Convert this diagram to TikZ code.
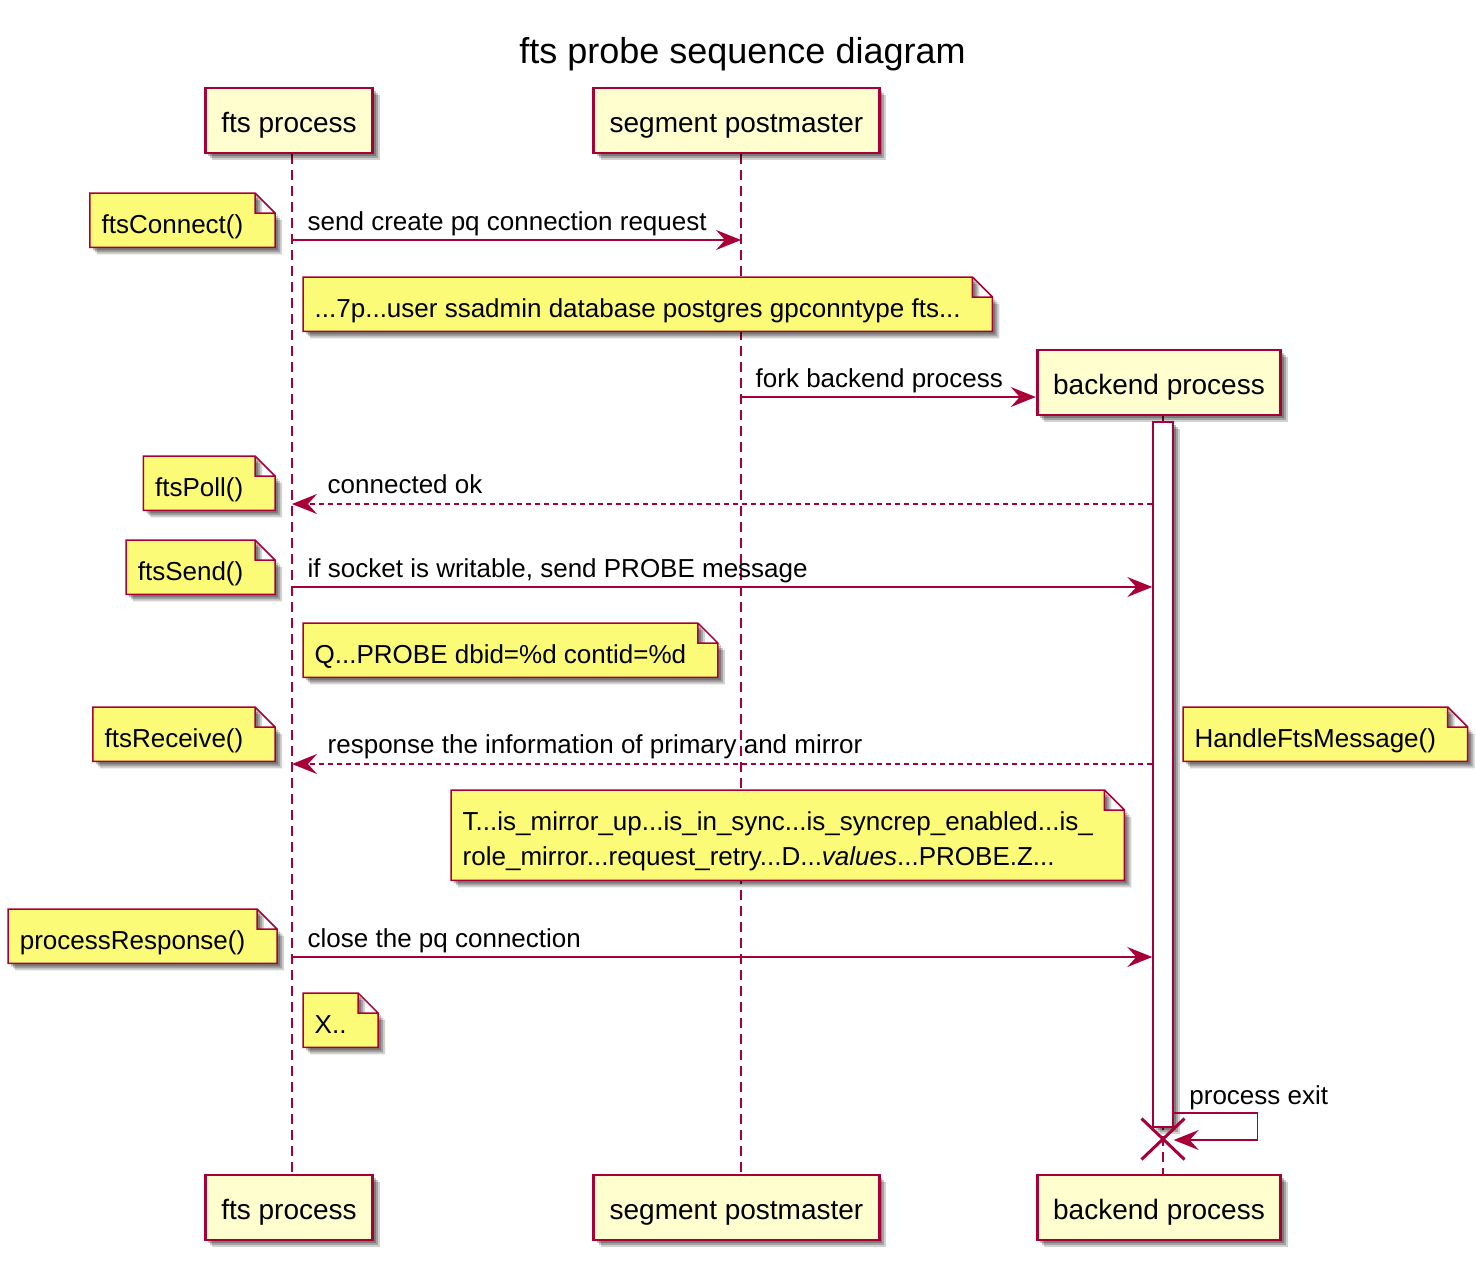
\documentclass[tikz,border=0pt]{standalone}
\usepackage{fontspec}
\setmainfont{Liberation Sans}
\usetikzlibrary{arrows.meta, shapes.misc, shadows, backgrounds}
\definecolor{pumlred}{HTML}{A80036}
\definecolor{partyfill}{HTML}{FEFECE}
\definecolor{notefill}{HTML}{FBFB77}

\begin{document}
\begin{tikzpicture}[x=1pt, y=-1pt,
	pshadow/.style={drop shadow={shadow xshift=7pt, shadow yshift=-7pt, fill=black, opacity=0.18},
		drop shadow={shadow xshift=5pt, shadow yshift=-5pt, fill=black, opacity=0.22},
		drop shadow={shadow xshift=3pt, shadow yshift=-3pt, fill=black, opacity=0.25}},
	party/.style={draw=pumlred, fill=partyfill, line width=2.8pt, pshadow,
		font=\fontsize{28}{34}\selectfont, minimum height=65pt, inner xsep=16pt,
		text height=24pt, text depth=0pt},
	lifeline/.style={draw=pumlred, line width=1.4pt, dash pattern=on 10pt off 6pt},
	actbar/.style={draw=pumlred, fill=white, line width=1.4pt, pshadow,
		minimum width=20pt, minimum height=705pt, inner sep=0pt},
	msg/.style={draw=pumlred, line width=1.4pt, -{Stealth[length=25pt, width=20pt, inset=9pt]}},
	ret/.style={msg, dash pattern=on 5pt off 4pt},
	lbl/.style={font=\fontsize{26}{31}\selectfont, inner sep=0pt, anchor=base west},
	note/.style={font=\fontsize{26}{35}\selectfont, align=left, inner xsep=11.5pt, inner ysep=0pt,
		minimum height=54pt, text height=26pt, text depth=0pt},
	notebody/.style={draw=pumlred, fill=notefill, line width=1.5pt, pshadow}]
	
	\useasboundingbox (0,0) rectangle (1476,1266);
	
	\node[font=\fontsize{36}{43}\selectfont, anchor=base] (title) at (742.5,63) {fts probe sequence diagram};
	
	% participants, top and bottom
	\node[party] (ftsTop) at (289,120.5) {fts process};
	\node[party] (segTop) at (736.5,120.5) {segment postmaster};
	\node[party] (backTop) at (1159,382.5) {backend process};
	\node[party] (ftsBot) at (289,1207.5) {fts process};
	\node[party] (segBot) at (736.5,1207.5) {segment postmaster};
	\node[party] (backBot) at (1159,1207.5) {backend process};
	
	\coordinate (fts) at (292,0);
	\coordinate (seg) at (741,0);
	\coordinate (back) at (1163,0);
	
	\node[actbar] (act) at (1163,774.5) {};
	
	% notes
	\node[note, anchor=north east] (nConnect) at (255,193) {ftsConnect()};
	\node[note, anchor=north west] (nStartup) at (303,277) {...7p...user ssadmin database postgres gpconntype fts...};
	\node[note, anchor=north east] (nPoll) at (255,456) {ftsPoll()};
	\node[note, anchor=north east] (nSend) at (255,540) {ftsSend()};
	\node[note, anchor=north west] (nProbe) at (303,623) {Q...PROBE dbid=\%d contid=\%d};
	\node[note, anchor=north east] (nReceive) at (255,707) {ftsReceive()};
	\node[note, anchor=north west] (nHandle) at (1183,707) {HandleFtsMessage()};
	\node[note, anchor=north west, text height=61pt, minimum height=90pt] (nResult) at (451,790)
		{T...is\_mirror\_up...is\_in\_sync...is\_syncrep\_enabled...is\_\\role\_mirror...request\_retry...D...\textit{values}...PROBE.Z...};
	\node[note, anchor=north east] (nResponse) at (257,909) {processResponse()};
	\node[note, anchor=north west] (nClose) at (303,993) {X..};
	
	\begin{scope}[on background layer]
		\draw[lifeline] (fts |- ftsTop.south) -- (fts |- ftsBot.north);
		\draw[lifeline] (seg |- segTop.south) -- (seg |- segBot.north);
		\draw[lifeline] (back |- backTop.south) -- (back |- backBot.north);
		\foreach \n in {nConnect, nStartup, nPoll, nSend, nProbe, nReceive, nHandle, nResult, nResponse, nClose}
		\filldraw[notebody] (\n.north west) -- (\n.north east) -- ([shift={(20,20)}]\n.north east)
			-- ([xshift=20pt]\n.south east) -- (\n.south west) -- cycle
			(\n.north east) |- ([shift={(20,20)}]\n.north east);
	\end{scope}
	
	% messages
	\draw[msg] (fts |- 0,240) -- (seg |- 0,240) node[lbl, pos=0, xshift=15pt, yshift=10pt] {send create pq connection request};
	\draw[msg] (seg |- 0,397) -- (backTop.west |- 0,397) node[lbl, pos=0, xshift=14pt, yshift=10pt] {fork backend process};
	\draw[ret] (act.west |- 0,504) -- (fts |- 0,504) node[lbl, pos=1, xshift=35pt, yshift=11pt] {connected ok};
	\draw[msg] (fts |- 0,587) -- (act.west |- 0,587) node[lbl, pos=0, xshift=15pt, yshift=10pt] {if socket is writable, send PROBE message};
	\draw[ret] (act.west |- 0,764) -- (fts |- 0,764) node[lbl, pos=1, xshift=35pt, yshift=10.5pt] {response the information of primary and mirror};
	\draw[msg] (fts |- 0,957) -- (act.west |- 0,957) node[lbl, pos=0, xshift=15pt, yshift=10pt] {close the pq connection};
	\draw[msg] (act.east |- 0,1113) -- ++(84,0) node[lbl, pos=0, xshift=15pt, yshift=9pt] {process exit}
		-- ++(0,27) -- (act.east |- 0,1140);
	
	\node[cross out, draw=pumlred, line width=3pt, minimum width=40pt, minimum height=38pt, inner sep=0pt] (kill) at (1163,1139) {};
	
\end{tikzpicture}
\end{document}
